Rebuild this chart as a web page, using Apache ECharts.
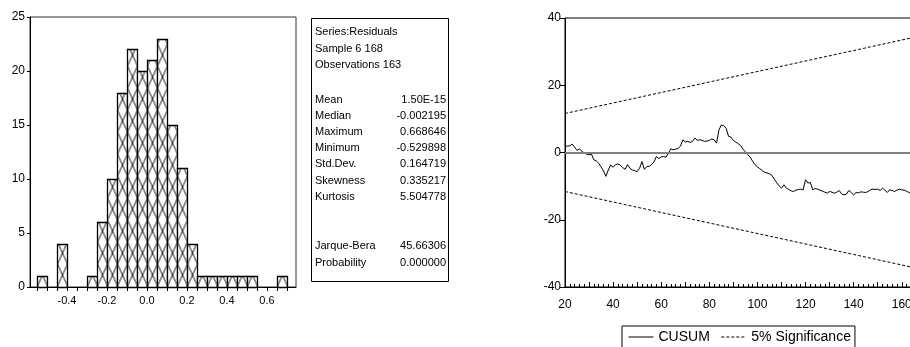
<!DOCTYPE html>
<html><head><meta charset="utf-8">
<script src="https://cdn.jsdelivr.net/npm/echarts@6/dist/echarts.min.js"></script>
<style>html,body{margin:0;padding:0;background:#fff}#c{width:910px;height:347px}</style>
</head><body><div id="c"></div>
<script>
// ---------- data ----------
const binStart = [-0.55,-0.45,-0.30,-0.25,-0.20,-0.15,-0.10,-0.05,0.00,0.05,0.10,0.15,0.20,0.25,0.30,0.35,0.40,0.45,0.50,0.65];
const binCount = [1,4,1,6,10,18,22,20,21,23,15,11,4,1,1,1,1,1,1,1];
const binWidth = 0.05;
const histTickValues = [-0.55,-0.5,-0.45,-0.4,-0.35,-0.3,-0.25,-0.2,-0.15,-0.1,-0.05,0,0.05,0.1,0.15,0.2,0.25,0.3,0.35,0.4,0.45,0.5,0.55,0.6,0.65,0.7];
const histLabelValues = [-0.4,-0.2,0,0.2,0.4,0.6];
const headerLines = ['Series:Residuals','Sample 6 168','Observations 163'];
const statLabels = ['Mean','Median','Maximum','Minimum','Std.Dev.','Skewness','Kurtosis','Jarque-Bera','Probability'];
const statValues = ['1.50E-15','-0.002195','0.668646','-0.529898','0.164719','0.335217','5.504778','45.66306','0.000000'];

const cusumPeriods = [20,21,22,23,24,25,26,27,28,29,30,31,32,33,34,35,36,37,38,39,40,41,42,43,44,45,46,47,48,49,50,51,52,53,54,55,56,57,58,59,60,61,62,63,64,65,66,67,68,69,70,71,72,73,74,75,76,77,78,79,80,81,82,83,84,85,86,87,88,89,90,91,92,93,94,95,96,97,98,99,100,101,102,103,104,105,106,107,108,109,110,111,112,113,114,115,116,117,118,119,120,121,122,123,124,125,126,127,128,129,130,131,132,133,134,135,136,137,138,139,140,141,142,143,144,145,146,147,148,149,150,151,152,153,154,155,156,157,158,159,160,161,162,163,164,165,166,167,168];
const cusumValues = [1.8,1.9,2.0,2.5,1.6,0.6,1.1,0.3,-0.1,-0.5,
 -0.7,-0.5,-2.2,-2.5,-3.2,-4.3,-5.5,-7.1,-5.2,-3.7,
 -4.4,-3.6,-3.4,-3.8,-4.5,-5.0,-3.6,-4.7,-5.2,-5.4,
 -5.7,-4.7,-2.7,-5.0,-4.2,-4.1,-3.6,-2.8,-1.2,-1.8,
 -1.3,-1.2,-1.4,-0.2,1.1,0.8,1.0,1.2,1.9,3.8,
 3.1,3.3,3.0,3.3,4.3,3.6,3.8,3.6,3.3,3.4,
 3.6,4.0,3.8,2.8,6.7,8.2,7.9,7.2,4.8,4.6,
 3.6,3.1,2.6,2.1,1.0,0.2,-0.7,-1.4,-2.6,-3.6,
 -4.3,-4.8,-5.4,-5.9,-6.1,-6.3,-6.8,-7.9,-9.0,-9.9,
 -10.6,-9.6,-10.6,-11.0,-11.4,-11.6,-11.2,-11.0,-10.9,-11.1,
 -8.1,-9.1,-8.9,-11.1,-10.7,-10.9,-11.2,-11.5,-11.8,-12.1,
 -11.6,-11.8,-12.1,-11.8,-11.3,-12.3,-12.6,-12.4,-11.3,-11.9,
 -12.6,-11.9,-12.0,-11.7,-11.8,-11.9,-11.6,-11.1,-10.9,-11.0,
 -10.9,-11.3,-10.6,-11.2,-11.9,-11.1,-11.3,-11.6,-11.2,-10.9,
 -11.1,-11.2,-11.5,-11.9,-12.2,-12.0,-12.3,-12.1,-12.4];
const sigPeriods = [20,168];
const sigUpper = [11.6,34.7];
const sigLower = [-11.6,-34.7];
const cusumXLabels = [20,40,60,80,100,120,140,160];

// ---------- styling helpers ----------
const FONT = 'Liberation Sans, Arial, sans-serif';
function makeHatch(){
  const W = 10, H = 22;
  const c = document.createElement('canvas'); c.width = W; c.height = H;
  const g = c.getContext('2d');
  g.fillStyle = '#fff'; g.fillRect(0,0,W,H);
  g.strokeStyle = '#000'; g.lineWidth = 0.9;
  g.beginPath(); g.moveTo(0,0); g.lineTo(W,H); g.moveTo(W,0); g.lineTo(0,H); g.stroke();
  return c;
}
const hatch = makeHatch();

const chart = echarts.init(document.getElementById('c'));

// stats box graphics
const gfx = [{type:'rect', shape:{x:311.5,y:18.5,width:137,height:263}, style:{fill:'#fff',stroke:'#000',lineWidth:1}, silent:true}];
const headerY = [32,48.5,65];
headerLines.forEach((t,i)=>gfx.push({type:'text', x:315, y:headerY[i], style:{text:t, font:'11px '+FONT, fill:'#000', textAlign:'left', textVerticalAlign:'middle', align:'left', verticalAlign:'middle'}}));
const statY = [99.8,115.6,131.8,148,164.4,180.6,197,246.2,262.7];
statLabels.forEach((t,i)=>{
  gfx.push({type:'text', x:315, y:statY[i], style:{text:t, font:'11px '+FONT, fill:'#000', textAlign:'left', textVerticalAlign:'middle', align:'left', verticalAlign:'middle'}});
  gfx.push({type:'text', x:446, y:statY[i], style:{text:statValues[i], font:'11px '+FONT, fill:'#000', textAlign:'right', textVerticalAlign:'middle', align:'right', verticalAlign:'middle'}});
});

const option = {
  animation:false,
  backgroundColor:'#fff',
  textStyle:{fontFamily:FONT},
  grid:[
    {left:30, top:17, width:266, height:270, show:true, borderColor:'#333', borderWidth:1, backgroundColor:'transparent', outerBoundsMode:'none', containLabel:false},
    {left:565, top:18, width:356, height:269, show:true, borderColor:'#000', borderWidth:1, backgroundColor:'transparent', outerBoundsMode:'none', containLabel:false}
  ],
  xAxis:[
    {type:'value', gridIndex:0, min:-0.585, max:0.745,
     axisLine:{show:true, onZero:false, lineStyle:{color:'#000', width:1}},
     axisTick:{show:true, inside:false, length:4, customValues:histTickValues, lineStyle:{color:'#000'}},
     axisLabel:{show:true, customValues:histLabelValues, formatter:v=>Number(v).toFixed(1), fontSize:11, color:'#000', margin:8, fontFamily:FONT},
     splitLine:{show:false}},
    {type:'value', gridIndex:1, min:20, max:168, interval:10,
     axisLine:{show:true, onZero:false, lineStyle:{color:'#000', width:1}},
     axisTick:{show:true, inside:true, length:5, lineStyle:{color:'#000'}},
     minorTick:{show:true, splitNumber:5, length:3, lineStyle:{color:'#000'}},
     axisLabel:{show:true, showMaxLabel:false, formatter:v=>cusumXLabels.indexOf(v)>=0? String(v):'', fontSize:12, color:'#000', margin:12, fontFamily:FONT},
     splitLine:{show:false}}
  ],
  yAxis:[
    {type:'value', gridIndex:0, min:0, max:25, interval:5,
     axisLine:{show:true, onZero:false, lineStyle:{color:'#000'}},
     axisTick:{show:true, inside:false, length:3, lineStyle:{color:'#000'}},
     axisLabel:{fontSize:12, color:'#000', margin:5, fontFamily:FONT},
     splitLine:{show:false}},
    {type:'value', gridIndex:1, min:-40, max:40, interval:20,
     axisLine:{show:true, onZero:false, lineStyle:{color:'#000'}},
     axisTick:{show:true, inside:false, length:5, lineStyle:{color:'#000'}},
     axisLabel:{fontSize:12, color:'#000', margin:4, fontFamily:FONT},
     splitLine:{show:false}}
  ],
  legend:{
    data:['CUSUM','5% Significance'], left:622, top:326, orient:'horizontal',
    itemWidth:25, itemHeight:10, itemGap:11,
    itemStyle:{color:'rgba(0,0,0,0)', borderWidth:0, opacity:0},
    lineStyle:{width:1},
    borderColor:'#000', borderWidth:1, padding:[4,4,12,6],
    textStyle:{fontSize:14, color:'#000', fontFamily:FONT}
  },
  graphic:gfx,
  series:[
    {type:'custom', name:'hist', xAxisIndex:0, yAxisIndex:0,
     data: binStart.map((s,i)=>[s, binCount[i]]),
     encode:{x:0, y:1},
     renderItem:function(params, api){
       const s = api.value(0), n = api.value(1);
       const p0 = api.coord([s, n]);
       const p1 = api.coord([s + binWidth, 0]);
       const x = Math.round(p0[0]) + 0.5, y = Math.round(p0[1]) + 0.5;
       const w = Math.round(p1[0]) - Math.round(p0[0]);
       const h = Math.round(p1[1]) - Math.round(p0[1]);
       return {type:'rect', shape:{x:x, y:y, width:w, height:h},
         style:{fill:{image:hatch, repeat:'repeat', x:x, y:0}, stroke:'#000', lineWidth:1.3}};
     }},
    {type:'line', name:'CUSUM', xAxisIndex:1, yAxisIndex:1,
     data: cusumPeriods.map((t,i)=>[t, cusumValues[i]]),
     symbol:'none', lineStyle:{color:'#000', width:1}, itemStyle:{color:'#000'},
     markLine:{silent:true, symbol:'none', label:{show:false}, lineStyle:{color:'#808080', width:2, type:'solid'}, data:[{yAxis:0}]}},
    {type:'line', name:'5% Significance', xAxisIndex:1, yAxisIndex:1,
     data: sigPeriods.map((t,i)=>[t, sigUpper[i]]),
     symbol:'none', lineStyle:{color:'#000', width:1, type:[3,2]}, itemStyle:{color:'#000'}},
    {type:'line', name:'5% Significance', xAxisIndex:1, yAxisIndex:1,
     data: sigPeriods.map((t,i)=>[t, sigLower[i]]),
     symbol:'none', lineStyle:{color:'#000', width:1, type:[3,2]}, itemStyle:{color:'#000'}}
  ]
};
chart.setOption(option);
</script>
</body></html>
